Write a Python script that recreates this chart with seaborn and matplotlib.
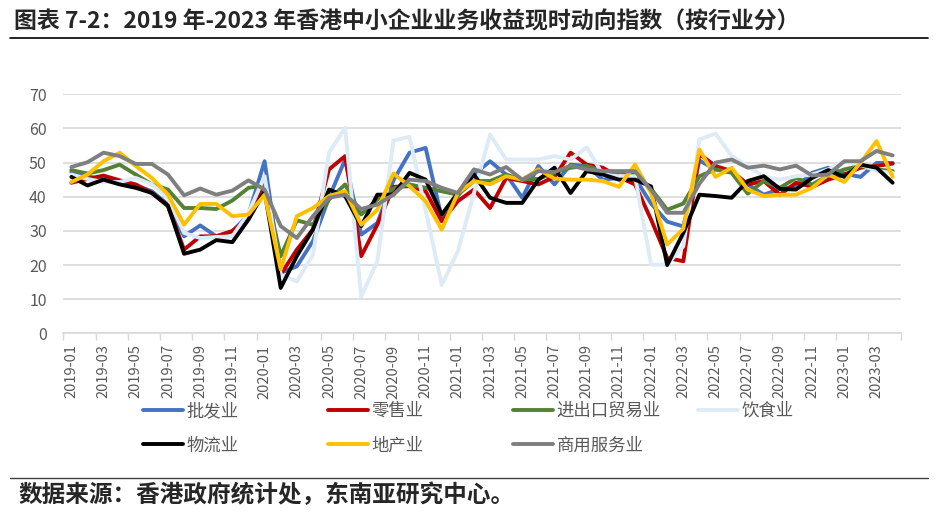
import matplotlib
import matplotlib.pyplot as plt
import numpy as np
import pandas as pd
import seaborn as sns
from matplotlib.lines import Line2D

matplotlib.use('Agg')  # no display

# Data, monthly 2019-01 .. 2023-04
months = [str(p) for p in pd.period_range('2019-01', '2023-04', freq='M')]

series_names = ['批发业', '零售业', '进出口贸易业', '饮食业', '物流业', '地产业', '商用服务业']
series_colors = ['#4472C4', '#C00000', '#548235', '#DDEBF7', '#000000', '#FFC000', '#7F7F7F']

wholesale = [47.2, 46.0, 45.0, 44.1, 43.3, 41.6, 37.7, 28.4, 31.6, 28.4, 29.8, 34.8,
             50.4, 17.7, 19.6, 27.0, 39.7, 50.9, 28.9, 32.3, 44.8, 52.9, 54.3, 33.8,
             40.2, 46.5, 50.4, 46.5, 39.7, 49.0, 43.6, 49.4, 49.0, 45.0, 45.5, 45.5,
             38.0, 32.7, 31.3, 50.6, 48.0, 47.5, 43.6, 40.6, 42.3, 42.9, 47.0, 48.5,
             46.8, 45.8, 49.9, 49.9]
retail = [44.1, 45.2, 46.2, 44.8, 43.6, 41.1, 37.2, 24.5, 28.4, 28.4, 30.0, 33.8,
          44.6, 17.2, 24.5, 30.4, 48.0, 51.9, 22.6, 31.8, 42.9, 43.1, 41.6, 32.8,
          38.7, 42.1, 36.7, 45.5, 44.6, 43.6, 45.8, 52.9, 49.4, 48.5, 45.8, 43.6,
          33.3, 22.1, 21.1, 52.5, 49.0, 47.5, 43.6, 44.6, 40.6, 44.1, 42.9, 45.0,
          46.5, 48.5, 49.0, 49.7]
trade = [47.8, 46.8, 47.8, 49.4, 46.5, 43.6, 42.1, 36.7, 36.7, 36.4, 38.9, 42.6,
         43.3, 22.6, 33.1, 31.8, 39.2, 43.6, 34.8, 39.2, 42.4, 43.6, 42.6, 41.6,
         40.6, 44.6, 44.6, 46.5, 45.0, 45.2, 47.1, 48.5, 49.0, 47.5, 47.2, 46.5,
         42.3, 36.2, 38.0, 46.0, 48.0, 47.0, 40.9, 44.6, 42.6, 45.5, 43.6, 46.2,
         48.0, 49.0, 48.0, 47.5]
food = [46.5, 45.2, 44.3, 44.3, 45.5, 43.6, 39.7, 29.4, 27.9, 28.2, 28.4, 35.3,
        46.0, 17.2, 15.2, 23.0, 52.9, 60.2, 10.8, 21.1, 56.5, 57.5, 36.0, 14.2,
        24.0, 41.0, 58.2, 50.9, 50.9, 50.9, 51.9, 50.9, 54.5, 46.5, 46.0, 46.0,
        20.1, 20.1, 25.5, 56.8, 58.5, 52.0, 48.9, 46.0, 45.0, 46.0, 46.5, 48.0,
        50.4, 49.4, 47.5, 47.0]
logistics = [45.8, 43.3, 45.0, 43.6, 42.6, 41.1, 37.4, 23.3, 24.5, 27.3, 26.7, 33.3,
             41.6, 13.3, 22.6, 30.4, 42.1, 40.2, 31.4, 40.6, 40.6, 47.0, 45.0, 34.8,
             41.1, 46.5, 39.7, 38.2, 38.2, 45.0, 48.5, 41.1, 47.5, 46.5, 45.0, 45.0,
             43.0, 20.0, 29.4, 40.6, 40.2, 39.7, 44.6, 46.0, 42.3, 42.1, 45.5, 47.8,
             45.8, 49.4, 48.5, 44.1]
property_ = [44.3, 46.5, 50.4, 52.9, 49.0, 45.5, 40.6, 31.8, 37.9, 37.9, 34.3, 34.8,
             40.6, 18.7, 34.3, 36.7, 40.2, 41.6, 31.8, 36.2, 46.8, 43.1, 38.7, 30.4,
             41.1, 44.6, 43.6, 46.0, 45.0, 48.0, 45.3, 45.0, 45.0, 44.6, 42.9, 49.4,
             41.0, 26.0, 30.6, 53.8, 45.8, 48.5, 42.1, 40.2, 40.6, 40.6, 42.6, 46.5,
             44.3, 49.9, 56.3, 45.8]
business = [48.7, 50.1, 52.9, 51.9, 49.6, 49.6, 46.5, 40.4, 42.4, 40.6, 41.8, 44.8,
            42.1, 31.4, 27.9, 34.3, 39.7, 40.6, 36.4, 37.7, 40.6, 45.0, 44.6, 42.6,
            41.1, 48.0, 46.5, 48.7, 45.0, 47.5, 47.2, 49.1, 48.0, 47.5, 47.5, 47.5,
            42.0, 35.3, 35.3, 43.8, 50.0, 50.9, 48.5, 49.1, 48.0, 49.1, 46.2, 46.5,
            50.4, 50.4, 53.4, 52.1]

all_values = [wholesale, retail, trade, food, logistics, property_, business]

title = '图表 7-2：2019 年-2023 年香港中小企业业务收益现时动向指数（按行业分）'
source = '数据来源：香港政府统计处，东南亚研究中心。'

# long table for seaborn
frames = []
for name, vals in zip(series_names, all_values):
    frames.append(pd.DataFrame({'idx': np.arange(len(months)), 'value': vals, 'series': name}))
df = pd.concat(frames, ignore_index=True)

sns.set_theme(style='white')
plt.rcParams['font.family'] = ['Noto Sans CJK SC', 'DejaVu Sans']

W, H = 938, 518
fig = plt.figure(figsize=(W / 100, H / 100), dpi=100)
ax = fig.add_axes([63.3 / W, 1 - 333.3 / H, (900.7 - 63.3) / W, (333.3 - 94.3) / H])

sns.lineplot(data=df, x='idx', y='value', hue='series', hue_order=series_names,
             palette=series_colors, linewidth=2.8, ax=ax, legend=False, sort=False)

ax.set_xlim(-0.5, len(months) - 0.5)
ax.set_ylim(0, 70)
ax.set_yticks(range(0, 71, 10))
ax.set_xticks(range(0, len(months), 2))
ax.set_xticklabels(months[::2])
ax.set_xticks(np.arange(-0.5, len(months), 2), minor=True)
ax.set_xlabel('')
ax.set_ylabel('')

ax.tick_params(axis='x', which='major', length=0, pad=8, labelrotation=90,
               labelsize=10.5, labelcolor='#595959')
ax.tick_params(axis='x', which='minor', length=5, width=1, color='#D9D9D9', bottom=True)
ax.tick_params(axis='y', length=0, pad=12, labelsize=11.5, labelcolor='#595959')

ax.grid(axis='y', color='#D9D9D9', linewidth=1.2)
ax.grid(axis='x', visible=False)
for s in ['left', 'right', 'top']:
    ax.spines[s].set_visible(False)
ax.spines['bottom'].set_color('#D9D9D9')
ax.spines['bottom'].set_linewidth(1.2)

# legend: 4 equal-width columns, row-major like Excel
handles = [Line2D([0], [0], color=c, lw=2.8) for c in series_colors]
columns = [[0, 4], [1, 5], [2, 6], [3]]
col_x = [143, 328, 513, 698]
for k, col in enumerate(columns):
    fig.legend([handles[i] for i in col], [series_names[i] for i in col],
               loc='upper left', bbox_to_anchor=(col_x[k] / W, 1 - 402 / H),
               frameon=False, fontsize=12.5, handlelength=2.3, handletextpad=0.2,
               labelspacing=0.95, borderpad=0, borderaxespad=0, labelcolor='#595959')

# title + rules + source
fig.text(14 / W, 1 - 22 / H, title, fontsize=16.5, fontweight='bold', va='center', ha='left')
fig.add_artist(Line2D([10 / W, 928 / W], [1 - 38 / H] * 2, color='black', lw=1.2))
fig.add_artist(Line2D([10 / W, 928 / W], [1 - 478 / H] * 2, color='#404040', lw=1.0))
fig.text(18 / W, 1 - 495 / H, source, fontsize=17, fontweight='bold', va='center', ha='left')

fig.savefig('out.png', dpi=100)
plt.close()
